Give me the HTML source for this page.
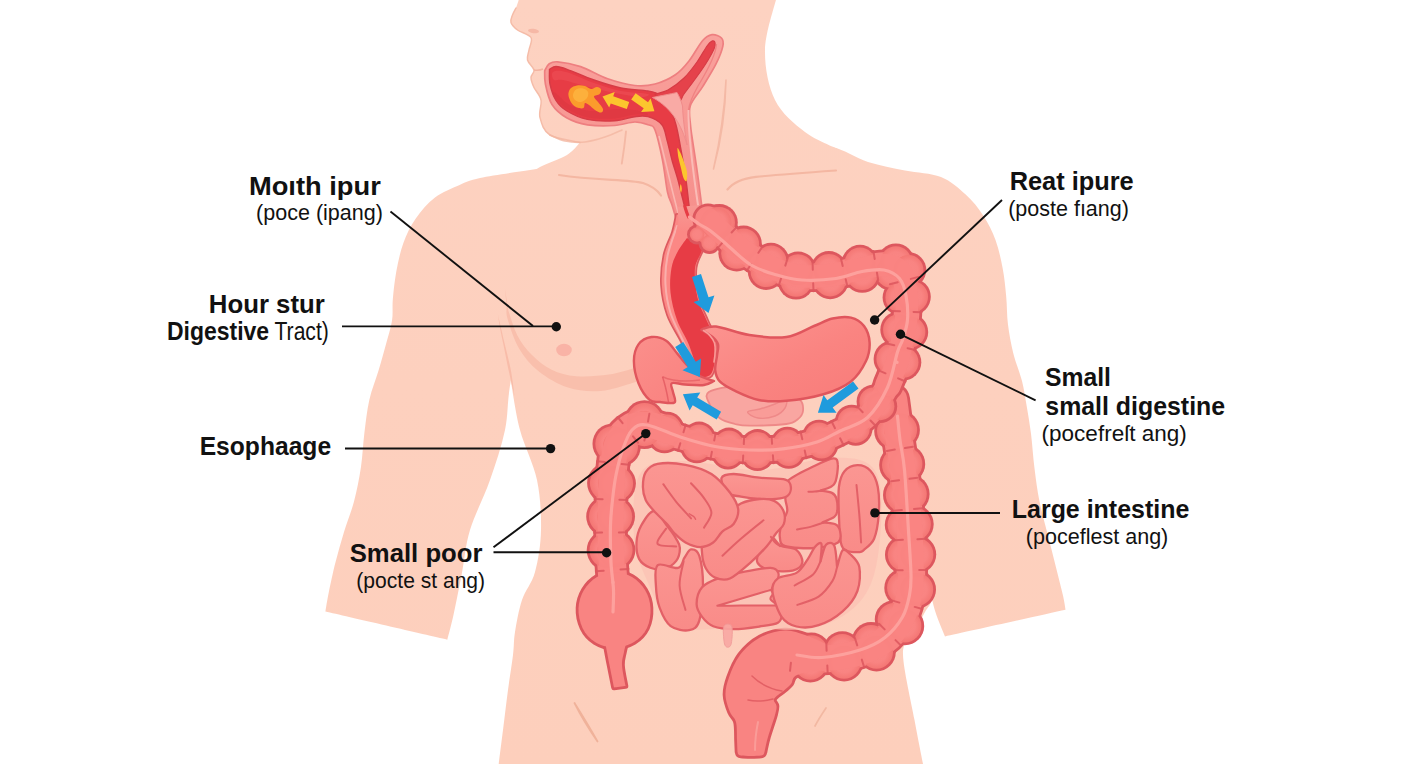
<!DOCTYPE html>
<html lang="en">
<head>
<meta charset="utf-8">
<title>Digestive tract diagram</title>
<style>
html,body{margin:0;padding:0;background:#fff;}
body{width:1408px;height:768px;overflow:hidden;position:relative;font-family:"Liberation Sans",sans-serif;}
svg{position:absolute;left:0;top:0;display:block;}
text{font-family:"Liberation Sans",sans-serif;fill:#111;}
.b{font-weight:700;}
</style>
</head>
<body>
<svg width="1408" height="768" viewBox="0 0 1408 768">
<defs>
<linearGradient id="skin" x1="0" y1="0" x2="0" y2="768" gradientUnits="userSpaceOnUse">
<stop offset="0" stop-color="#fdd2c1"/><stop offset="0.5" stop-color="#fdd0be"/><stop offset="1" stop-color="#fdcfbc"/>
</linearGradient>
</defs>
<rect width="1408" height="768" fill="#ffffff"/>
<path d="M560,166C555,166.7 543.3,168 530,170C516.7,172 491.7,175.5 480,178C468.3,180.5 467.1,181.7 459.6,185C452.1,188.3 442.3,192 435,197.6C427.7,203.2 420.9,211.1 415.6,218.7C410.3,226.3 406.5,234.5 403.3,243.3C400.1,252.1 398.1,262.1 396.3,271.5C394.6,280.9 393.5,291.4 392.8,299.6C392.1,307.8 393.2,313.1 392,320.7C390.8,328.3 387.9,337.1 385.7,345.3C383.5,353.5 381.4,360.9 378.7,370C376,379.1 371.7,389.4 369.3,400C366.9,410.6 365.7,422.5 364.3,433.8C362.9,445.1 362.6,456.3 360.9,467.6C359.2,478.9 356.8,490.8 354,501.5C351.2,512.2 347.1,521.8 344,531.9C340.9,542 338.1,552.1 335.5,562.3C332.9,572.4 330.4,584.6 328.7,592.8C327,601 325.9,608.5 325.4,611.6C345.7,616.3 427,635 447.3,639.7C448.4,635.3 451.4,624.7 453.8,613.5C456.2,602.3 459.3,586.6 462,572.7C464.7,558.8 465.3,545.5 470,530C474.7,514.5 484.2,496.7 490,480C495.8,463.3 501.5,446.7 505,430C508.5,413.3 506.8,401.7 511,380C515.2,358.3 521.8,326.7 530,300C538.2,273.3 555,233.3 560,220C560,211 560,175 560,166Z" fill="url(#skin)"/>
<path d="M800,150C805.3,149.5 820.7,145 832,147C843.3,149 855.8,158.1 868,162C880.2,165.9 892.8,168 905,170.5C917.2,173 930.9,173 941,177C951.1,181 958.7,188.2 965.7,194.6C972.8,201 978.3,208.1 983.3,215.7C988.3,223.3 992.4,231.5 995.6,240.3C998.8,249.1 1000.9,259.1 1002.7,268.5C1004.5,277.9 1005.3,287.2 1006.2,296.6C1007.1,306 1006.8,315.4 1008,324.8C1009.2,334.2 1010.9,343.5 1013.2,352.9C1015.5,362.3 1019.8,372.3 1022,381C1024.2,389.7 1025,396.2 1026.5,405C1028,413.8 1029.7,423.4 1031,433.8C1032.3,444.2 1033,456.3 1034.4,467.6C1035.8,478.9 1037.2,490.2 1039.5,501.5C1041.8,512.8 1045.1,524 1047.9,535.3C1050.7,546.5 1053.9,558.9 1056.4,569C1058.9,579.1 1061.6,589.2 1063.1,596C1064.6,602.8 1065.1,607.4 1065.5,609.7C1045.4,614.2 965.1,632 945,636.4C943.1,631.2 936.8,618.1 933.5,605.4C930.2,592.7 928.1,577.6 925,560C921.9,542.4 918.3,523.3 915,500C911.7,476.7 909.2,453.3 905,420C900.8,386.7 897.5,333.3 890,300C882.5,266.7 865,233.3 860,220C850,208.3 810,161.7 800,150Z" fill="url(#skin)"/>
<path d="M520,-4C519.3,-2 517.2,4.8 516,8C514.8,11.2 513.3,12.6 512.5,15C511.7,17.4 510.2,20 511,22.5C511.8,25 514.2,27.5 517.5,30C520.8,32.5 529.1,34.2 531,37.5C532.9,40.8 529.6,46.2 529,50C528.4,53.8 526.7,56.7 527.5,60C528.3,63.3 533.4,67.1 534,70C534.6,72.9 531,74.6 531,77.5C531,80.4 532.3,83.8 534,87.5C535.7,91.2 540,95 541,100C542,105 538.5,111.7 540,117.5C541.5,123.3 543.3,130.8 550,135C556.7,139.2 575,141.2 580,142.5C577.8,144.6 573.7,150.9 567,155C560.3,159.1 547.8,162.8 540,167C532.2,171.2 523.3,177.8 520,180C519.2,200 516.5,266.3 515,300C513.5,333.7 511.7,368.3 511,382C512.5,390 515.7,413.7 520,430C524.3,446.3 533.5,463.3 537,480C540.5,496.7 541.3,514.7 541,530C540.7,545.3 538.2,560.3 535,572C531.8,583.7 525.3,590 522,600C518.7,610 516.5,622.8 515,632C513.5,641.2 514.2,645.3 513,655C511.8,664.7 509.7,677.5 508,690C506.3,702.5 504.6,717.7 503,730C501.4,742.3 499.4,758.3 498.7,764C569.4,764 852.3,764 923,764C921.6,756.7 917.8,738.2 914.5,720C911.2,701.8 903.4,669 903,655C902.6,641 908.3,643.2 912,636C915.7,628.8 921.7,618.3 925,612C928.3,605.7 930.5,606.7 932,598C933.5,589.3 934.3,584.7 934,560C933.7,535.3 933.2,488.3 930,450C926.8,411.7 923.3,371.7 915,330C906.7,288.3 885.8,221.7 880,200C873.3,191.7 846.7,158.3 840,150C834.2,147 815.8,140.3 805,132C794.2,123.7 781.7,113.7 775,100C768.3,86.3 764.7,67.3 765,50C765.3,32.7 775,5 777,-4C734.2,-4 562.8,-4 520,-4Z" fill="url(#skin)"/>
<path d="M516,8C515.4,9.2 513.3,12.6 512.5,15C511.7,17.4 510.2,20 511,22.5C511.8,25 514.2,27.5 517.5,30C520.8,32.5 529.1,34.2 531,37.5C532.9,40.8 529.6,46.2 529,50C528.4,53.8 526.7,56.7 527.5,60C528.3,63.3 533.4,67.1 534,70C534.6,72.9 531,74.6 531,77.5C531,80.4 532.3,83.8 534,87.5C535.7,91.2 540,95 541,100C542,105 538.5,111.7 540,117.5C541.5,123.3 543.3,130.8 550,135C556.7,139.2 575,141.2 580,142.5" fill="none" stroke="#f5bca8" stroke-width="1.5" stroke-linejoin="round" stroke-linecap="round"/>
<path d="M550,135C552.5,136 559.2,139.8 565,141C570.8,142.2 578.3,142.7 585,142C591.7,141.3 598.8,139 605,137C611.2,135 619.2,131.2 622,130" fill="none" stroke="#f3b6a1" stroke-width="1.6" stroke-linecap="round" opacity=".8"/>
<ellipse cx="533.5" cy="31" rx="5.5" ry="2.2" fill="#f6b8a6" transform="rotate(8 533.5 31)"/>
<path d="M534,70 C538,70.5 541,70 543,69" stroke="#f3b3a0" stroke-width="1.5" fill="none"/>
<path d="M626,131.5 C625,142 623.5,153 621.8,163.6" stroke="#f4b9a5" stroke-width="1.9" fill="none" stroke-linecap="round"/>
<path d="M726,80 C724.5,110 719,145 713.5,169 C720,145 725.5,112 726,80Z" stroke="#f4b9a5" stroke-width="1.6" fill="#f4b9a5" stroke-linejoin="round"/>
<path d="M559,175 C595,180.5 628,179.5 643,183 C652,186 657.5,190 661,195.5" stroke="#f4b7a2" stroke-width="2.2" fill="none" stroke-linecap="round"/>
<path d="M727.5,189.5 C733,182.5 742,178.5 756,176.8 C780,174.5 808,172.5 836,170.5" stroke="#f4b7a2" stroke-width="2.2" fill="none" stroke-linecap="round"/>
<path d="M505,289C505.2,291.7 506.1,300 506.5,305C506.9,310 505.5,311.8 507.6,319C509.7,326.2 513.8,339.7 519,348.4C524.2,357.1 530.4,364.8 538.6,371.3C546.8,377.8 557.6,384.3 568,387.6C578.4,390.9 589.4,391.9 600.7,391C612,390.1 630.1,383.5 636,382L636,367.5C631.5,368.7 618.9,373.2 608.9,374.6C598.9,376.1 585.7,377 576.2,376.2C566.7,375.4 559.1,373.2 551.7,369.7C544.3,366.2 537.7,360.7 532,355C526.3,349.3 521.3,342.8 517.4,335.4C513.5,328 509.9,314.9 508.4,310.8Z" fill="#f9bfac"/>
<path d="M497.8,314C498.4,316.7 500.3,324.8 501.5,330C502.7,335.2 503.4,338.2 505,345C506.6,351.8 509.4,362.5 511,371C512.6,379.5 513.9,391.8 514.5,396C513.6,392 510.8,380.5 509,372C507.2,363.5 505,352.3 503.5,345C502,337.7 500.9,333.2 500,328C499.1,322.8 498.2,316.3 497.8,314Z" fill="#f8bca9"/>
<ellipse cx="564" cy="350" rx="7.8" ry="6.2" fill="#f9b3a6"/>
<path d="M574.5,703 C582,715 590,728 597.5,741.5 C589,729 581,716 574.5,703Z" stroke="#f0b29a" stroke-width="1.8" fill="#f0b29a" stroke-linejoin="round"/>
<path d="M826,708 C822,714 818,720 815,726" stroke="#f2b8a2" stroke-width="1.7" fill="none" stroke-linecap="round"/>
<defs><radialGradient id="hbg" cx="0.5" cy="0.5" r="0.5"><stop offset="0" stop-color="#fa8684"/><stop offset="0.62" stop-color="#f98482"/><stop offset="1" stop-color="#f47774"/></radialGradient></defs>
<defs><linearGradient id="mwg" x1="0" y1="0" x2="0" y2="1"><stop offset="0" stop-color="#f9a19c"/><stop offset="1" stop-color="#f68f8b"/></linearGradient></defs>
<path d="M544.7,70.6C545.4,69.5 546.9,65.5 549,64C551.1,62.5 552.3,61.4 557.6,61.8C562.9,62.2 572.2,63.8 580.6,66.6C589,69.4 598.7,75.6 607.7,78.8C616.7,82 626.9,84.6 634.8,85.5C642.7,86.4 648.2,85.8 655,84C661.8,82.2 669.7,78.5 675.4,74.7C681.1,70.9 684.5,66.7 689,61C693.5,55.4 698.7,45.2 702.5,40.8C706.3,36.4 708.8,35.2 712,34.7C715.2,34.2 719.7,36.1 721.5,38C723.3,39.9 723.7,42 722.8,46.3C721.9,50.6 719.4,57.1 716,63.9C712.6,70.7 706.8,79.9 702.5,86.9C698.2,93.9 692.3,99.5 690.3,105.8C688.3,112.1 690.1,119.3 690.5,125C690.9,130.7 691.4,132.5 692.5,140C693.6,147.5 695.6,160 697,170C698.4,180 700,192.3 701,200C702,207.7 702.7,213.3 703,216C698.7,217 681.3,221 677,222C676.2,219.2 673.6,210 672,205C670.4,200 669.1,199.5 667.5,192C665.9,184.5 664.6,170.3 662.5,160C660.4,149.7 657.4,135.9 655,130C652.6,124.1 651.4,126.1 648,124.8C644.6,123.5 640.4,121.9 634.8,122C629.2,122.1 622.4,125 614.5,125.5C606.6,126 595.3,126 587.4,124.8C579.5,123.5 572.9,121.4 567,118C561.1,114.6 555.6,110.2 552,104.5C548.4,98.8 546.6,89.7 545.4,84C544.2,78.3 544.8,72.8 544.7,70.6Z" fill="url(#mwg)" stroke="#ee7f80" stroke-width="1.7" stroke-linejoin="round"/>
<path d="M549.5,69.3C550.6,68.8 553.1,66.5 556,66.5C558.9,66.5 560.7,67 567,69.3C573.3,71.5 585,76.9 594,80C603,83.1 612,86.2 621,88C630,89.8 641.5,89.8 648,91C654.5,92.2 656.5,92.5 660,95C663.5,97.5 666.3,101 669,106C671.7,111 674,117.7 676,125C678,132.3 679.3,140.8 681,150C682.7,159.2 684.7,170.8 686,180C687.3,189.2 688.2,199.2 689,205C689.8,210.8 690.2,213.3 690.5,215C689.9,215 688.2,217.5 687,215C685.8,212.5 684.5,205.8 683,200C681.5,194.2 679.8,186.7 678,180C676.2,173.3 673.8,166.7 672,160C670.2,153.3 668.7,145.9 667,140C665.3,134.1 665.1,128.7 661.9,124.8C658.7,120.9 652.5,118 648,116.7C643.5,115.4 640.4,116 634.8,116.7C629.2,117.4 622.4,120.2 614.5,120.7C606.6,121.2 595.3,121 587.4,119.4C579.5,117.8 572.2,114.2 567,111C561.8,107.8 558.8,104.9 556,100.4C553.2,95.9 551.1,89.2 550,84C548.9,78.8 549.6,71.8 549.5,69.3Z" fill="#e73c45" stroke="#d63b45" stroke-width="1.4" stroke-linejoin="round"/>
<path d="M553,72C555,70.7 559.2,70.2 566,72C572.8,73.8 584.8,79.8 594,83C603.2,86.2 612,89.2 621,91C630,92.8 644.8,93 648,94C651.2,95 646.3,97.3 640,97C633.7,96.7 619.2,93.8 610,92C600.8,90.2 592.8,88 585,86C577.2,84 568.2,81 563,80C557.8,79 555.7,81.3 554,80C552.3,78.7 551,73.3 553,72Z" fill="#ef5057" opacity=".55"/>
<path d="M553,92C552.8,92.8 555.5,98.1 558,101C560.5,103.9 563,106.8 568,109.5C573,112.2 580.3,116 588,117.5C595.7,119 606.3,119 614,118.5C621.7,118 628.3,115.2 634,114.5C639.7,113.8 647,115.1 648,114.5C649,113.9 644.7,111.9 640,111C635.3,110.1 628.3,109 620,109C611.7,109 598.3,111.7 590,111C581.7,110.3 575.2,107.5 570,105C564.8,102.5 561.8,98.2 559,96C556.2,93.8 553.2,91.2 553,92Z" fill="#d93540" opacity=".5"/>
<path d="M655,95C654.7,93.3 663.2,92.8 668,90C672.8,87.2 679.2,82.7 684,78C688.8,73.3 693.2,67.3 697,62C700.8,56.7 704.5,49.5 707,46C709.5,42.5 710.7,41.6 712,41C713.3,40.4 714.7,41.2 715,42.5C715.3,43.8 715.7,45.2 714,49C712.3,52.8 708.5,59.5 705,65C701.5,70.5 696.5,77.2 693,82C689.5,86.8 686.3,90.7 684,94C681.7,97.3 681.3,101 679,102C676.7,103 674,101.2 670,100C666,98.8 655.3,96.7 655,95Z" fill="#e5424b" stroke="#d63b45" stroke-width="1.1"/>
<path d="M716.5,44 C716,52 709,68 698,86 C693,95 689.5,102 688.5,110" fill="none" stroke="#ee7f80" stroke-width="1.3" opacity=".9"/>
<path d="M652.5,97.5 C662,95.5 670,94 677,92.5 C679,96 681,100 682.5,106 C683,118 684.5,130 687,145 C682,126 672,108 652.5,97.5Z" fill="#f9aaa5" stroke="#f08c8b" stroke-width="1"/>
<path d="M688.5,110 C688,135 693,172 699,212" fill="none" stroke="#fbc0ba" stroke-width="2" opacity=".9"/>
<path d="M659,136 C665,158 671.5,190 679.5,218" fill="none" stroke="#fbc0ba" stroke-width="1.6" opacity=".8"/>
<path d="M568.4,95C568.2,92.6 569.1,90.1 570.5,88.5C571.9,86.9 574.6,85.9 577,85.5C579.4,85.1 582.7,85.4 585,86C587.3,86.6 589,88.8 591,89C593,89.2 595.3,86.9 597,87C598.7,87.1 600.6,88.3 601,89.5C601.4,90.7 600.8,92.8 599.6,94C598.4,95.2 594.3,95.2 594,96.5C593.7,97.8 596.5,99.9 598,102C599.5,104.1 602.5,107.2 603,109C603.5,110.8 602.3,112.4 601,112.6C599.7,112.8 597,111.3 595,110C593,108.7 590.7,106.2 589,105C587.3,103.8 585.9,102.5 585,103C584.1,103.5 584.8,107.2 583.5,108C582.2,108.8 579,108.3 577,107.5C575,106.7 572.9,105.1 571.5,103C570.1,100.9 568.6,97.4 568.4,95Z" fill="#fb9c2c"/>
<path d="M573,95C573.2,93.2 574.3,90.6 576,89.5C577.7,88.4 581,88.1 583,88.5C585,88.9 587.3,90.4 588,92C588.7,93.6 588.2,96.3 587,98C585.8,99.7 583,101.7 581,102C579,102.3 576.3,101.2 575,100C573.7,98.8 572.8,96.8 573,95Z" fill="#fdb23e" opacity=".9"/>
<path d="M629.2,102L613.2,96.3L614.7,92L602.5,96.5L609.2,107.6L610.7,103.4L626.8,109Z" fill="#fcc62e"/>
<path d="M631.2,99.5L643.7,108.3L641.1,112L654.4,111.3L650.6,98.5L648,102.2L635.6,93.3Z" fill="#fcc62e"/>
<path d="M677.5,148C677.8,147.2 679.4,150.7 680.5,153C681.6,155.3 682.9,158.8 684,162C685.1,165.2 686.6,168.8 687,172C687.4,175.2 687.1,180 686.5,181C685.9,182 684.4,180.2 683.5,178C682.6,175.8 681.8,171.3 681,168C680.2,164.7 679.1,161.3 678.5,158C677.9,154.7 677.2,148.8 677.5,148Z" fill="#fcc62e"/>
<path d="M680.5,184 C682,186 682.5,190 681,193 C679.5,190 679.5,187 680.5,184Z" fill="#fdb53a"/>
<path d="M676,214C675.3,217 674.1,225.2 672,232C669.9,238.8 665.3,246.2 663.5,255C661.7,263.8 660.4,275 661,285C661.6,295 663.7,305.5 667,315C670.3,324.5 676.8,333.5 681,342C685.2,350.5 688.8,359.8 692,366C695.2,372.2 698.7,376.8 700,379C702,378.5 709.2,379.7 712,376C714.8,372.3 716.3,363.3 717,357C717.7,350.7 717.5,344.2 716,338C714.5,331.8 710.8,326.8 708,320C705.2,313.2 700.9,306.2 699,297.5C697.1,288.8 695.5,276.6 696.5,268C697.5,259.4 703.1,252.7 705,246C706.9,239.3 708.3,233.7 708,228C707.7,222.3 703.8,214.7 703,212C698.5,212.3 680.5,213.7 676,214Z" fill="#fb8885" stroke="#dc5a60" stroke-width="1.7" stroke-linejoin="round"/>
<path d="M687,238C685.4,240.3 680.1,247 677.5,252C674.9,257 672.7,261.2 671.5,268C670.3,274.8 669.6,283.8 670.5,292.5C671.4,301.2 673.9,311.2 677,320C680.1,328.8 685.2,335.3 689,345C692.8,354.7 697.8,372.5 699.5,378C701.4,377.3 708.3,377.7 711,374C713.7,370.3 714.9,362 715.5,356C716.1,350 716,344 714.5,338C713,332 709.3,326.8 706.5,320C703.7,313.2 699.4,306.2 697.5,297.5C695.6,288.8 694.2,276.3 695,268C695.8,259.7 703.3,252.5 702,247.5C700.7,242.5 689.5,239.6 687,238Z" fill="#e73c45"/>
<path d="M677,226C675.4,231 669.4,246.2 667.5,256C665.6,265.8 665,275.5 665.5,285C666,294.5 667.5,303.5 670.5,313C673.5,322.5 679.3,332.8 683.5,342C687.7,351.2 693.5,363.7 695.5,368" fill="none" stroke="#f9b4b0" stroke-width="2" stroke-linecap="round" opacity=".9"/>
<defs><linearGradient id="seam" x1="0" y1="206" x2="0" y2="232" gradientUnits="userSpaceOnUse"><stop offset="0" stop-color="#f79893"/><stop offset="1" stop-color="#fb8885"/></linearGradient></defs>
<path d="M677.5,207 L700.5,205 L704,222 L700,236 L676,232 L678.5,221 Z" fill="url(#seam)"/>
<path d="M686,205 C687.5,210 689,214 690.5,218 L687.5,218.5 C685.5,214 684,210 683,205.5Z" fill="#e73c45"/>
<g fill="#dd575e" stroke="#dd575e" stroke-width="5.6" stroke-linejoin="round">
<path d="M893,400C893.7,405 895.3,418.3 897,430C898.7,441.7 901.2,456.7 903,470C904.8,483.3 906.8,496.7 908,510C909.2,523.3 910.2,536.7 910.5,550C910.8,563.3 911.6,578.3 910,590C908.4,601.7 905.5,611.5 901,620C896.5,628.5 890.2,635.5 883,641C875.8,646.5 867.2,650.2 858,653C848.8,655.8 837.7,657.4 828,658C818.3,658.6 807,657 800,656.5C793,656 788.3,655.2 786,655" fill="none" stroke-width="34.2" stroke-linecap="round"/>
<circle cx="893.5" cy="431" r="19.3" stroke="none"/>
<circle cx="898.5" cy="465" r="19.3" stroke="none"/>
<circle cx="902.3" cy="495" r="19.3" stroke="none"/>
<circle cx="904.1" cy="524.9" r="19.3" stroke="none"/>
<circle cx="904.3" cy="554.7" r="19.3" stroke="none"/>
<circle cx="903.6" cy="587.9" r="19.3" stroke="none"/>
<circle cx="894.1" cy="619.5" r="19.3" stroke="none"/>
<circle cx="871" cy="641.4" r="19.3" stroke="none"/>
<circle cx="842.3" cy="650.5" r="19.3" stroke="none"/>
<circle cx="811.4" cy="651.8" r="19.3" stroke="none"/>
<circle cx="900.6" cy="429.9" r="19.3" stroke="none"/>
<circle cx="905.9" cy="463.9" r="19.3" stroke="none"/>
<circle cx="910.3" cy="494" r="19.3" stroke="none"/>
<circle cx="914.4" cy="524.1" r="19.3" stroke="none"/>
<circle cx="916.9" cy="554.4" r="19.3" stroke="none"/>
<circle cx="916.7" cy="589.4" r="19.3" stroke="none"/>
<circle cx="904.9" cy="625.9" r="19.3" stroke="none"/>
<circle cx="876.5" cy="652.2" r="19.3" stroke="none"/>
<circle cx="844.1" cy="662.2" r="19.3" stroke="none"/>
<circle cx="810.4" cy="663.2" r="19.3" stroke="none"/>
<path d="M826,644C822.5,642.5 811.8,637.2 805,635C798.2,632.8 792.5,630.1 785,630.5C777.5,630.9 767.5,633.4 760,637.5C752.5,641.6 745.2,648.3 740,655C734.8,661.7 731.4,670.8 729,677.5C726.6,684.2 725.3,689.2 725.5,695C725.7,700.8 728.2,707.5 730,712C731.8,716.5 734.8,717.3 736,722C737.2,726.7 736.8,735 737,740C737.2,745 737.4,750 737.5,752C738.1,752.6 737.1,754.9 741,755.5C744.9,756.1 757.1,756.1 761,755.5C764.9,754.9 763.9,752.6 764.5,752C765.1,749.5 766.2,743.2 768,737C769.8,730.8 773.6,720.2 775,715C776.4,709.8 776.7,708.7 776.5,706C776.3,703.3 772.8,701.6 774,699C775.2,696.4 781.2,693 784,690.5C786.8,688 788.8,686.6 791,684C793.2,681.4 791.2,677.7 797,675C802.8,672.3 821.2,669.2 826,668C826,664 826,648 826,644Z"/>
</g>
<g fill="#f98482" stroke="none">
<path d="M893,400C893.7,405 895.3,418.3 897,430C898.7,441.7 901.2,456.7 903,470C904.8,483.3 906.8,496.7 908,510C909.2,523.3 910.2,536.7 910.5,550C910.8,563.3 911.6,578.3 910,590C908.4,601.7 905.5,611.5 901,620C896.5,628.5 890.2,635.5 883,641C875.8,646.5 867.2,650.2 858,653C848.8,655.8 837.7,657.4 828,658C818.3,658.6 807,657 800,656.5C793,656 788.3,655.2 786,655" fill="none" stroke="#f98482" stroke-width="28.6" stroke-linecap="round"/>
<circle cx="893.5" cy="431" r="16.5" fill="url(#hbg)"/>
<circle cx="898.5" cy="465" r="16.5" fill="url(#hbg)"/>
<circle cx="902.3" cy="495" r="16.5" fill="url(#hbg)"/>
<circle cx="904.1" cy="524.9" r="16.5" fill="url(#hbg)"/>
<circle cx="904.3" cy="554.7" r="16.5" fill="url(#hbg)"/>
<circle cx="903.6" cy="587.9" r="16.5" fill="url(#hbg)"/>
<circle cx="894.1" cy="619.5" r="16.5" fill="url(#hbg)"/>
<circle cx="871" cy="641.4" r="16.5" fill="url(#hbg)"/>
<circle cx="842.3" cy="650.5" r="16.5" fill="url(#hbg)"/>
<circle cx="811.4" cy="651.8" r="16.5" fill="url(#hbg)"/>
<circle cx="900.6" cy="429.9" r="16.5" fill="url(#hbg)"/>
<circle cx="905.9" cy="463.9" r="16.5" fill="url(#hbg)"/>
<circle cx="910.3" cy="494" r="16.5" fill="url(#hbg)"/>
<circle cx="914.4" cy="524.1" r="16.5" fill="url(#hbg)"/>
<circle cx="916.9" cy="554.4" r="16.5" fill="url(#hbg)"/>
<circle cx="916.7" cy="589.4" r="16.5" fill="url(#hbg)"/>
<circle cx="904.9" cy="625.9" r="16.5" fill="url(#hbg)"/>
<circle cx="876.5" cy="652.2" r="16.5" fill="url(#hbg)"/>
<circle cx="844.1" cy="662.2" r="16.5" fill="url(#hbg)"/>
<circle cx="810.4" cy="663.2" r="16.5" fill="url(#hbg)"/>
<path d="M893,400C893.7,405 895.3,418.3 897,430C898.7,441.7 901.2,456.7 903,470C904.8,483.3 906.8,496.7 908,510C909.2,523.3 910.2,536.7 910.5,550C910.8,563.3 911.6,578.3 910,590C908.4,601.7 905.5,611.5 901,620C896.5,628.5 890.2,635.5 883,641C875.8,646.5 867.2,650.2 858,653C848.8,655.8 837.7,657.4 828,658C818.3,658.6 807,657 800,656.5C793,656 788.3,655.2 786,655" fill="none" stroke="#f98482" stroke-width="25.6" stroke-linecap="round" opacity=".9"/>
<path d="M826,644C822.5,642.5 811.8,637.2 805,635C798.2,632.8 792.5,630.1 785,630.5C777.5,630.9 767.5,633.4 760,637.5C752.5,641.6 745.2,648.3 740,655C734.8,661.7 731.4,670.8 729,677.5C726.6,684.2 725.3,689.2 725.5,695C725.7,700.8 728.2,707.5 730,712C731.8,716.5 734.8,717.3 736,722C737.2,726.7 736.8,735 737,740C737.2,745 737.4,750 737.5,752C738.1,752.6 737.1,754.9 741,755.5C744.9,756.1 757.1,756.1 761,755.5C764.9,754.9 763.9,752.6 764.5,752C765.1,749.5 766.2,743.2 768,737C769.8,730.8 773.6,720.2 775,715C776.4,709.8 776.7,708.7 776.5,706C776.3,703.3 772.8,701.6 774,699C775.2,696.4 781.2,693 784,690.5C786.8,688 788.8,686.6 791,684C793.2,681.4 791.2,677.7 797,675C802.8,672.3 821.2,669.2 826,668C826,664 826,648 826,644Z"/>
</g>
<g stroke="#dd575e" stroke-width="2" stroke-linecap="round" opacity=".85">
<path d="M886.9,450.9 L894.8,449.6"/>
<path d="M891.2,481.3 L899.1,480.2"/>
<path d="M893.9,510.8 L901.9,510.1"/>
<path d="M894.9,540.2 L902.9,539.8"/>
<path d="M894.7,570.2 L902.7,570.2"/>
<path d="M891.7,600.4 L899.4,602.6"/>
<path d="M879,623.8 L884.7,629.4"/>
<path d="M854.8,637.8 L857.2,645.4"/>
<path d="M826.3,642.8 L826.6,650.8"/>
<path d="M912.9,446.8 L905,448.1"/>
<path d="M917.4,477.7 L909.5,478.8"/>
<path d="M922,508.2 L914,508.9"/>
<path d="M925.4,538.8 L917.4,539.2"/>
<path d="M927.2,570 L919.2,570.1"/>
<path d="M922.4,609 L914.7,606.9"/>
<path d="M901.2,645.7 L895.5,640.1"/>
<path d="M864.2,667.2 L861.8,659.6"/>
<path d="M827.7,673.3 L827.3,665.4"/>
<path d="M790,670.8 L790.9,662.8"/>
</g>
<path d="M897.5,416C897.9,420 898.8,431 900,440C901.2,449 903.1,454.8 904.5,470C905.9,485.2 907.4,513.5 908.5,531C909.6,548.5 910.8,564.3 911,575C911.2,585.7 910.9,588 909.5,595C908.1,602 906.6,609.9 902.5,617C898.4,624.1 892.1,632 885,637.5C877.9,643 870.5,646.7 860,650C849.5,653.3 832.5,656.7 822,657.5C811.5,658.3 801.2,655.4 797,655" fill="none" stroke="#fda29e" stroke-width="3.2" stroke-linecap="round" opacity=".95"/>
<path d="M752,676 C760,684 770,689 782,691" fill="none" stroke="#dd575e" stroke-width="1.5" stroke-linecap="round" opacity=".8"/>
<path d="M748,700 C756,702 765,701 773,699" fill="none" stroke="#dd575e" stroke-width="1.5" stroke-linecap="round" opacity=".8"/>
<path d="M758,722 C756,732 755,742 755,750" fill="none" stroke="#fbb0ab" stroke-width="2" stroke-linecap="round" opacity=".55"/>
<defs><linearGradient id="sig" x1="0" y1="0" x2="0" y2="1"><stop offset="0" stop-color="#fb9692"/><stop offset="1" stop-color="#f98b88"/></linearGradient></defs>
<path d="M641.1,472.2C649.7,460.2 665.7,461.4 685.5,461.1C705.2,460.8 734.8,471 759.4,470.3C784.1,469.7 814,457.1 833.4,457.4C852.8,457.7 868.2,458 875.9,472.2C883.6,486.4 881.8,521.5 879.6,542.5C877.5,563.4 873.8,583.8 863,597.9C852.2,612.1 835.3,622.6 814.9,627.5C794.6,632.4 764.1,627.8 740.9,627.5C717.8,627.2 691.9,633.7 676.2,625.7C660.5,617.7 653.7,594.8 646.6,579.4C639.6,564 634.6,551.1 633.7,533.2C632.8,515.3 632.5,484.2 641.1,472.2Z" fill="#fbc1b4" opacity=".75"/>
<path d="M838.9,487C839.9,479.7 841.4,474.9 844.5,471.3C847.6,467.6 853.1,465.3 857.4,465.2C861.8,465.1 867,467.1 870.4,470.7C873.8,474.3 876.4,479.6 877.8,487C879.2,494.3 879.3,506.1 878.7,514.7C878.1,523.3 876.5,532.9 874.1,538.8C871.6,544.6 866.4,547.6 863.9,549.9C861.4,552.1 862.2,551.9 859.3,552.1C856.4,552.2 849.8,552.4 846.7,550.8C843.6,549.2 842.1,548.5 840.8,542.5C839.5,536.4 839.3,524 838.9,514.7C838.6,505.5 838,494.2 838.9,487Z" fill="url(#sig)" stroke="#e36067" stroke-width="2.3" stroke-linejoin="round"/>
<path d="M856.5,485.1C857,490.1 858.5,505.2 859.3,514.7C860.1,524.3 860.8,537.8 861.1,542.5" fill="none" stroke="#e36067" stroke-width="2" stroke-linecap="round"/>
<path d="M820.5,490.5C822.4,490.9 829.3,491.6 831.9,492.9C834.6,494.2 835.5,495.4 836.4,498.4C837.3,501.5 837.6,507.9 837.3,511C836.9,514.1 836.8,515 834.3,516.9C831.8,518.8 824.3,521.6 822.3,522.5C824.5,522.8 832.3,522.9 835.3,524.3C838.2,525.8 839.6,528.3 840.1,531.4C840.5,534.4 842.2,539.7 838,542.5C833.8,545.2 823.7,547.4 814.9,548C806.1,548.6 791.2,548 785.3,546.2C779.5,544.3 780.4,540.6 779.8,536.9C779.2,533.2 780.4,528.3 781.6,524C782.9,519.6 786.6,515.3 787.2,511C787.8,506.7 785.3,503 785.3,498.1C785.3,493.1 782.2,486.8 787.2,481.4C792.1,476 807.2,469.6 814.9,465.7C822.6,461.9 829.6,458.5 833.4,458.3C837.2,458.1 837.5,460.6 837.8,464.4C838.2,468.3 836.8,477.7 835.6,481.4C834.4,485.2 833.2,485.5 830.6,487C828.1,488.5 822.2,489.9 820.5,490.5Z" fill="url(#sig)" stroke="#e36067" stroke-width="2.3" stroke-linejoin="round"/>
<path d="M821.4,490.7C820.3,490.8 817.1,491.4 814.9,491.6C812.8,491.8 809.5,491.8 808.4,491.8" fill="none" stroke="#e36067" stroke-width="2" stroke-linecap="round"/>
<path d="M797,529.5C799.3,529 806.8,527.7 811.2,526.6C815.6,525.4 821.2,523.3 823.2,522.7" fill="none" stroke="#e36067" stroke-width="2" stroke-linecap="round"/>
<path d="M721.5,478.1C722.5,475 727.2,474.1 733.6,474C739.9,474 750.8,476.8 759.4,477.7C768.1,478.7 780.1,478 785.3,479.6C790.6,481.2 790.6,484.8 790.9,487.5C791.2,490.3 789.6,494.3 787.2,496.2C784.7,498.1 780.7,498.5 776.1,499C771.5,499.5 765.3,499.4 759.4,499C753.6,498.6 746.2,497.6 740.9,496.6C735.7,495.6 731.2,496 728,492.9C724.8,489.8 720.6,481.2 721.5,478.1Z" fill="url(#sig)" stroke="#e36067" stroke-width="2.3" stroke-linejoin="round"/>
<path d="M770.5,536.9C767,537.9 761.6,547.4 759.4,551.7C757.3,556 755.7,559.7 757.6,562.8C759.4,565.9 764.7,568.9 770.5,570.2C776.4,571.5 787.4,571.8 792.7,570.6C798,569.3 801.7,566.2 802.3,562.8C803,559.3 800,552.7 796.4,549.9C792.8,547 785,547.9 780.7,545.8C776.4,543.6 774.1,535.9 770.5,536.9Z" fill="url(#sig)" stroke="#e36067" stroke-width="2.3" stroke-linejoin="round"/>
<path d="M654,511C649.7,511 644,520.6 641.1,525.8C638.2,531.1 636.8,536.9 636.5,542.5C636.2,548 636.9,554.9 639.2,559.1C641.6,563.3 646.2,566.2 650.3,567.8C654.5,569.4 659.9,569.9 664.2,568.7C668.5,567.6 673.6,564.4 676.2,560.9C678.8,557.5 679.9,551.7 679.9,548C679.9,544.3 678.4,542.5 676.2,538.8C674.1,535.1 670.7,530.4 667,525.8C663.3,521.2 658.4,511 654,511Z" fill="url(#sig)" stroke="#e36067" stroke-width="2.3" stroke-linejoin="round"/>
<path d="M676.2,546.5C673.6,546.3 663.6,546.3 660.5,545.4C657.4,544.5 656.8,543.8 657.7,541C658.7,538.2 664.7,530.7 666.1,528.6" fill="none" stroke="#e36067" stroke-width="2" stroke-linecap="round"/>
<path d="M657.7,565.1C654,568.1 655.6,578.4 655.9,585.5C656.2,592.6 657.1,600.9 659.6,607.7C662.1,614.4 665.7,622.4 670.7,626.2C675.6,629.9 684.4,631.1 689.2,630.2C693.9,629.3 697,628.1 699.3,620.6C701.7,613.1 703,596.3 703,585.5C703,574.7 701.3,561.9 699.3,555.9C697.3,549.9 693.5,549.1 691,549.4C688.6,549.7 686.7,554.7 684.5,557.7C682.4,560.8 682.5,566.7 678.1,567.9C673.6,569.1 661.4,562.2 657.7,565.1Z" fill="url(#sig)" stroke="#e36067" stroke-width="2.3" stroke-linejoin="round"/>
<path d="M683.6,561.4C682.9,565.4 679.2,577.4 679.6,585.5C679.9,593.5 684.5,605.8 685.5,609.9" fill="none" stroke="#e36067" stroke-width="2" stroke-linecap="round"/>
<path d="M696.6,604C696.6,599 698.4,591.6 702.1,587.3C705.8,583 711.7,580.7 718.8,578.1C725.8,575.5 736,573.3 744.6,571.6C753.3,569.9 764.9,567.7 770.5,567.9C776.1,568.1 777.3,570.3 778.3,572.9C779.3,575.5 777.6,580.8 776.4,583.6C775.3,586.5 771.1,586.3 771.5,590.1C771.9,593.9 777.1,602.3 778.9,606.2C780.6,610.1 782.2,610.8 782,613.6C781.8,616.4 781.7,620.7 777.9,622.8C774.2,625 766.8,625.5 759.4,626.5C752,627.6 741.3,629.2 733.6,629.1C725.8,629.1 718.4,628.2 713.2,626.2C708,624.1 704.9,620.6 702.1,616.9C699.3,613.2 696.6,608.9 696.6,604Z" fill="url(#sig)" stroke="#e36067" stroke-width="2.3" stroke-linejoin="round"/>
<path d="M717.3,605.8C721.2,604.6 733.9,600.9 740.9,598.8C748,596.7 754.4,594.7 759.4,593.2C764.4,591.8 769,590.5 770.9,589.9C771.2,590.6 772.8,592.2 772.8,593.8C772.7,595.4 769.6,597.4 770.5,599.3C771.5,601.3 777,604.6 778.3,605.6C775.2,605.6 765.7,605.6 759.4,605.6C753.2,605.6 748,605.6 740.9,605.6C733.9,605.7 721.2,605.8 717.3,605.8Z" fill="#fbc3b6" stroke="#e36067" stroke-width="2" stroke-linejoin="round"/>
<path d="M723.9,626.2C722.7,628.9 723.7,639.3 724.3,642.8C724.9,646.3 726.5,647.2 727.6,647.2C728.8,647.3 730.7,646.7 731.3,643.2C732,639.7 732.9,629 731.7,626.2C730.5,623.3 725.2,623.4 723.9,626.2Z" fill="#f9a8a3" stroke="#f29a98" stroke-width="1" opacity=".9"/>
<path d="M820.5,561.4C821.4,558.7 823.7,547.4 826,544.8C828.3,542.2 832.5,542 834.3,545.7C836.2,549.4 836.6,563.4 837.1,567C838,564.2 840.5,552.5 842.6,550.3C844.8,548.2 847.3,551.3 850,554C852.8,556.8 858.1,560.8 859.3,567C860.5,573.1 860.2,583.6 857.4,591C854.7,598.4 849.1,605.7 842.6,611.4C836.2,617.1 826.3,622.7 818.6,625.2C810.9,627.8 802.6,627.9 796.4,626.5C790.3,625.1 785.6,622.8 781.6,616.9C777.6,611 773,597.4 772.4,591C771.8,584.6 773.9,581.5 777.9,578.4C781.9,575.4 791.5,576 796.4,572.9C801.4,569.8 804.4,563.9 807.5,559.6C810.6,555.3 812.6,549.6 814.9,547C817.2,544.4 820.5,541.5 821.4,543.9C822.3,546.3 820.6,558.5 820.5,561.4Z" fill="url(#sig)" stroke="#e36067" stroke-width="2.3" stroke-linejoin="round"/>
<path d="M794.6,585.5C797.7,583.6 808.7,578.4 813.1,574.4C817.4,570.4 819.2,563.6 820.5,561.4" fill="none" stroke="#e36067" stroke-width="2" stroke-linecap="round"/>
<path d="M797.3,604.9C800.9,603.5 812.8,600.6 818.6,596.6C824.5,592.6 829.4,585.8 832.5,580.9C835.6,575.9 836.3,569.3 837.1,567" fill="none" stroke="#e36067" stroke-width="2" stroke-linecap="round"/>
<path d="M704,538.8C707.4,532.9 716.3,524.3 722.5,518.4C728.6,512.6 734.8,506.9 740.9,503.6C747.1,500.4 753.9,499.5 759.4,499C765,498.5 770.2,498.8 774.2,500.9C778.2,502.9 781.9,507.2 783.5,511C785.1,514.9 785.1,520.3 783.8,524C782.6,527.7 778.9,529.5 776.1,533.2C773.2,536.9 771.1,541.2 766.8,546.2C762.5,551.1 756.4,557.4 750.2,562.8C744,568.2 735.7,576 729.9,578.5C724,581 719.1,579.3 715.1,577.6C711.1,575.9 708,572.3 705.8,568.3C703.7,564.3 702.4,558.5 702.1,553.6C701.8,548.6 700.6,544.6 704,538.8Z" fill="url(#sig)" stroke="#e36067" stroke-width="2.3" stroke-linejoin="round"/>
<path d="M722.5,555.8C725.5,552.9 734.1,544.7 740.9,538.8C747.8,532.8 759.7,523.3 763.5,520.3" fill="none" stroke="#e36067" stroke-width="2" stroke-linecap="round"/>
<path d="M770.9,536.9C771.6,537.8 773.6,540.9 775.2,542.5C776.7,544 779.3,545.5 780.1,546.2" fill="none" stroke="#e36067" stroke-width="2" stroke-linecap="round"/>
<path d="M642.9,487C642.9,482.4 643.3,476 645.7,472.2C648.2,468.3 651.1,465.1 657.7,463.9C664.4,462.6 676.5,463.1 685.5,464.8C694.4,466.5 704,469.4 711.4,474C718.8,478.7 725.4,486.7 729.9,492.5C734.3,498.4 737.6,503.9 738.2,509.2C738.8,514.4 736.2,520.3 733.6,524C730.9,527.7 725.8,528.3 722.5,531.4C719.1,534.4 716.9,539.8 713.2,542.5C709.5,545.1 704.9,547.1 700.3,547.1C695.6,547.1 689.8,544.8 685.5,542.5C681.2,540.1 677.5,536.3 674.4,533.2C671.3,530.1 670.4,527.7 667,524C663.6,520.3 657.6,515 654,511C650.5,507 647.6,503.9 645.7,499.9C643.9,495.9 642.9,491.6 642.9,487Z" fill="url(#sig)" stroke="#e36067" stroke-width="2.3" stroke-linejoin="round"/>
<path d="M663.3,484.2C665.4,487.1 671.6,496.1 676.2,501.8C680.9,507.5 688.6,515.6 691,518.4" fill="none" stroke="#e36067" stroke-width="2" stroke-linecap="round"/>
<path d="M691,483.3C693.2,485.7 700.6,493.1 704,498.1C707.4,503 711.4,507.9 711.4,512.9C711.4,517.8 705.2,525.2 704,527.7" fill="none" stroke="#e36067" stroke-width="2" stroke-linecap="round"/>
<path d="M689.2,513.8C689.9,514.3 692.7,515.6 693.8,516.6C694.9,517.5 695.3,518.9 695.6,519.3" fill="none" stroke="#e36067" stroke-width="1.4" stroke-linecap="round"/>
<defs><linearGradient id="stg" x1="0" y1="0" x2="1" y2="1"><stop offset="0" stop-color="#fc9591"/><stop offset="0.55" stop-color="#fa8481"/><stop offset="1" stop-color="#f87b79"/></linearGradient><linearGradient id="dug" x1="0" y1="0" x2="1" y2="1"><stop offset="0" stop-color="#fb8f8b"/><stop offset="1" stop-color="#f97f7d"/></linearGradient></defs>
<path d="M708.8,392C703.8,395.2 708.2,400.6 710,405C711.8,409.4 715.6,415.1 719.8,418.3C724,421.5 730.1,422.8 735,424C739.9,425.2 740.8,425.7 749.4,425.7C758,425.7 778.3,425.1 786.4,424C794.5,422.9 795.2,421.2 798,419C800.8,416.8 802.7,414.2 803,411C803.3,407.8 803.8,403.2 800,400C796.2,396.8 790,394.3 780,392C770,389.7 751.9,386 740,386C728.1,386 713.8,388.8 708.8,392Z" fill="#f9a4a0" stroke="#ee8686" stroke-width="1.8" opacity=".95"/>
<path d="M747.6,412C747.9,410.5 755.4,410.3 760,409C764.6,407.7 770.7,405.7 775,404C779.3,402.3 784.3,398.3 786,399C787.7,399.7 786.8,405.2 785,408C783.2,410.8 779.5,414.3 775,416C770.5,417.7 762.6,418.7 758,418C753.4,417.3 747.3,413.5 747.6,412Z" fill="#f99c98" stroke="#ee8686" stroke-width="1.4" opacity=".9"/>
<path d="M714,381C712.3,381.7 708.8,384.4 704,385C699.2,385.6 690.4,384.8 685,384.5C679.6,384.2 673.8,381.9 671.8,383.2C669.8,384.4 672.5,388.8 673,392C673.5,395.2 676.7,400.8 674.5,402.5C672.3,404.2 664.1,402.4 660,402C655.9,401.6 653.2,403 649.6,399.9C646,396.8 641.1,389.7 638.5,383.2C635.9,376.7 633.9,367.5 633.9,361C633.9,354.5 635.6,348.4 638.5,344.4C641.4,340.4 646.8,337.6 651.4,337C656,336.4 661.9,337.9 666.2,340.7C670.5,343.5 673.9,349.6 677.3,353.6C680.7,357.6 682.9,361 686.6,364.7C690.3,368.4 694.9,373.1 699.5,375.8C704.1,378.5 711.6,380.1 714,381Z" fill="url(#dug)" stroke="#e0565d" stroke-width="2.4" stroke-linejoin="round"/>
<path d="M662.5,376.7 C665,384 667,393 668.5,402" fill="none" stroke="#e0565d" stroke-width="1.5" opacity=".75"/>
<path d="M662.5,376.7 C672,381 686,382 700,380" fill="none" stroke="#e0565d" stroke-width="1.5" opacity=".6"/>
<path d="M701.4,329.6C703.8,329.1 708,325.6 716,326.5C724,327.4 737.7,333.2 749.4,335C761.1,336.8 775.6,338.5 786.4,337C797.2,335.5 806.3,329.1 814,326C821.7,322.9 826.4,319.9 832.6,318.5C838.8,317.1 845.8,316.4 851,317.6C856.2,318.9 860.9,321.9 864,326C867.1,330.1 869.3,336.7 869.6,342.5C869.9,348.3 869.1,354.5 866,361C862.9,367.5 858.1,375.8 851,381.4C843.9,386.9 834.2,391.1 823.4,394.3C812.6,397.5 797.2,399.9 786.4,400.8C775.6,401.7 767.3,401.6 758.7,399.9C750.1,398.2 741.1,393.7 734.6,390.6C728.1,387.5 723,384.8 719.8,381.4C716.6,378 715.7,374.6 715.2,370.3C714.7,366 716.5,359.8 717,355.5C717.5,351.2 718.8,347.5 718,344.4C717.2,341.3 715.3,339.5 712.5,337C709.7,334.5 703.2,330.8 701.4,329.6Z" fill="url(#stg)" stroke="#e0565d" stroke-width="2.5" stroke-linejoin="round"/>
<path d="M703.5,330.5 C708,333 712,337 714.5,343 C716,349 715,356 714,362" fill="none" stroke="#fca5a1" stroke-width="1.6" stroke-linecap="round" opacity=".9"/>
<g fill="#dd575e" stroke="#dd575e" stroke-width="5.6" stroke-linejoin="round">
<path d="M897,362C895.3,366.2 892,378 887,387C882,396 874.8,408.5 867,416C859.2,423.5 848.3,427.8 840,432C831.7,436.2 826.5,438.8 817,441.5C807.5,444.2 794.3,447.1 783,448.5C771.7,449.9 760.3,450.3 749,450C737.7,449.7 726.3,448.6 715,446.5C703.7,444.4 691,440.4 681,437.5C671,434.6 661.8,430.9 655,429C648.2,427.1 642.5,426.5 640,426" fill="none" stroke-width="29" stroke-linecap="round"/>
<circle cx="873.4" cy="401.5" r="16.8" stroke="none"/>
<circle cx="851.7" cy="421.5" r="16.8" stroke="none"/>
<circle cx="819" cy="436.5" r="16.8" stroke="none"/>
<circle cx="787.4" cy="443.6" r="16.8" stroke="none"/>
<circle cx="757.5" cy="445.9" r="16.8" stroke="none"/>
<circle cx="729" cy="444.4" r="16.8" stroke="none"/>
<circle cx="699.1" cy="438.4" r="16.8" stroke="none"/>
<circle cx="667.2" cy="428.6" r="16.8" stroke="none"/>
<circle cx="880.4" cy="406.2" r="16.8" stroke="none"/>
<circle cx="855.7" cy="428.9" r="16.8" stroke="none"/>
<circle cx="821.6" cy="444.5" r="16.8" stroke="none"/>
<circle cx="788.7" cy="452" r="16.8" stroke="none"/>
<circle cx="757.5" cy="454.3" r="16.8" stroke="none"/>
<circle cx="728" cy="452.7" r="16.8" stroke="none"/>
<circle cx="696.9" cy="446.5" r="16.8" stroke="none"/>
<circle cx="664.5" cy="436.5" r="16.8" stroke="none"/>
<path d="M668,431C665,430 656,425.7 650,425C644,424.3 637.4,424 632,427C626.6,430 620.8,435.8 617.5,443C614.2,450.2 613.6,460.5 612.5,470C611.4,479.5 611.3,490 611,500C610.7,510 610.4,520 610.5,530C610.6,540 611.1,551.3 611.5,560C611.9,568.7 612.8,578.3 613,582" fill="none" stroke-width="34.4" stroke-linecap="round"/>
<circle cx="644.5" cy="420.5" r="20.3" stroke="none"/>
<circle cx="612.8" cy="443.7" r="20.3" stroke="none"/>
<circle cx="607.4" cy="483.1" r="20.3" stroke="none"/>
<circle cx="606.5" cy="516.4" r="20.3" stroke="none"/>
<circle cx="607" cy="550.3" r="20.3" stroke="none"/>
<circle cx="644.3" cy="428.7" r="20.3" stroke="none"/>
<circle cx="620.5" cy="446.5" r="20.3" stroke="none"/>
<circle cx="615.6" cy="483.5" r="20.3" stroke="none"/>
<circle cx="614.7" cy="516.6" r="20.3" stroke="none"/>
<circle cx="615.1" cy="549.9" r="20.3" stroke="none"/>
<path d="M708,219C709.8,220.8 715.2,226.3 719,230C722.8,233.7 726.7,237.3 731,241C735.3,244.7 738.5,247.7 745,252C751.5,256.3 760.8,263 770,267C779.2,271 789.8,274.7 800,276C810.2,277.3 821,276.2 831,275C841,273.8 851.2,270.7 860,269C868.8,267.3 877.3,264.6 884,265C890.7,265.4 896.3,267.3 900,271.5C903.7,275.7 904.9,282.8 906,290C907.1,297.2 907,307.2 906.5,315C906,322.8 904.6,329.2 903,337C901.4,344.8 899.5,354 897,362C894.5,370 889.5,381.2 888,385" fill="none" stroke-width="31.2" stroke-linecap="round"/>
<circle cx="711.3" cy="230.6" r="18.3" stroke="none"/>
<circle cx="736.7" cy="253.2" r="18.3" stroke="none"/>
<circle cx="766.1" cy="271.6" r="18.3" stroke="none"/>
<circle cx="796.1" cy="281.3" r="18.3" stroke="none"/>
<circle cx="830.2" cy="280.9" r="18.3" stroke="none"/>
<circle cx="862.2" cy="274.5" r="18.3" stroke="none"/>
<circle cx="891.3" cy="272.4" r="18.3" stroke="none"/>
<circle cx="900.9" cy="297.4" r="18.3" stroke="none"/>
<circle cx="898.6" cy="329.7" r="18.3" stroke="none"/>
<circle cx="891.9" cy="358.9" r="18.3" stroke="none"/>
<circle cx="719.5" cy="222.4" r="18.3" stroke="none"/>
<circle cx="743.6" cy="243.9" r="18.3" stroke="none"/>
<circle cx="771" cy="261.1" r="18.3" stroke="none"/>
<circle cx="798" cy="269.8" r="18.3" stroke="none"/>
<circle cx="828.9" cy="269.4" r="18.3" stroke="none"/>
<circle cx="860" cy="263.1" r="18.3" stroke="none"/>
<circle cx="895.9" cy="261.7" r="18.3" stroke="none"/>
<circle cx="912.5" cy="296.8" r="18.3" stroke="none"/>
<circle cx="909.9" cy="332" r="18.3" stroke="none"/>
<circle cx="903" cy="362.3" r="18.3" stroke="none"/>
<circle cx="716" cy="222.8" r="18.4" stroke="none"/>
<circle cx="697" cy="234.5" r="10" stroke="none"/>
<circle cx="709.5" cy="243" r="11" stroke="none"/>
<circle cx="908.5" cy="270" r="17.8" stroke="none"/>
<path d="M614.5,572C620.3,572 626.9,574 632,577C637.1,580 641.9,584.8 645,590C648.1,595.2 650.2,601.7 650.5,608C650.8,614.3 649.8,622.3 647,628C644.2,633.7 639.5,638.8 634,642C628.5,645.2 620.5,647.5 614,647.5C607.5,647.5 600.2,645.2 595,642C589.8,638.8 585.2,633.7 582.5,628C579.8,622.3 578.2,614.3 578.5,608C578.8,601.7 580.9,595.2 584,590C587.1,584.8 591.9,580 597,577C602.1,574 608.7,572 614.5,572Z"/>
<path d="M605,640C605.3,642 606.2,647.8 607,652C607.8,656.2 608.3,659.1 609.5,665C610.7,670.9 613.2,683.8 614,687.5C615.9,687.2 623.6,686.2 625.5,686C624.9,682.5 622.2,670.7 622,665C621.8,659.3 623.2,656.2 624,652C624.8,647.8 626.5,642 627,640C623.3,640 608.7,640 605,640Z"/>
</g>
<g fill="#f98482" stroke="none">
<path d="M897,362C895.3,366.2 892,378 887,387C882,396 874.8,408.5 867,416C859.2,423.5 848.3,427.8 840,432C831.7,436.2 826.5,438.8 817,441.5C807.5,444.2 794.3,447.1 783,448.5C771.7,449.9 760.3,450.3 749,450C737.7,449.7 726.3,448.6 715,446.5C703.7,444.4 691,440.4 681,437.5C671,434.6 661.8,430.9 655,429C648.2,427.1 642.5,426.5 640,426" fill="none" stroke="#f98482" stroke-width="23.4" stroke-linecap="round"/>
<path d="M668,431C665,430 656,425.7 650,425C644,424.3 637.4,424 632,427C626.6,430 620.8,435.8 617.5,443C614.2,450.2 613.6,460.5 612.5,470C611.4,479.5 611.3,490 611,500C610.7,510 610.4,520 610.5,530C610.6,540 611.1,551.3 611.5,560C611.9,568.7 612.8,578.3 613,582" fill="none" stroke="#f98482" stroke-width="28.8" stroke-linecap="round"/>
<path d="M708,219C709.8,220.8 715.2,226.3 719,230C722.8,233.7 726.7,237.3 731,241C735.3,244.7 738.5,247.7 745,252C751.5,256.3 760.8,263 770,267C779.2,271 789.8,274.7 800,276C810.2,277.3 821,276.2 831,275C841,273.8 851.2,270.7 860,269C868.8,267.3 877.3,264.6 884,265C890.7,265.4 896.3,267.3 900,271.5C903.7,275.7 904.9,282.8 906,290C907.1,297.2 907,307.2 906.5,315C906,322.8 904.6,329.2 903,337C901.4,344.8 899.5,354 897,362C894.5,370 889.5,381.2 888,385" fill="none" stroke="#f98482" stroke-width="25.6" stroke-linecap="round"/>
<circle cx="873.4" cy="401.5" r="14" fill="url(#hbg)"/>
<circle cx="851.7" cy="421.5" r="14" fill="url(#hbg)"/>
<circle cx="819" cy="436.5" r="14" fill="url(#hbg)"/>
<circle cx="787.4" cy="443.6" r="14" fill="url(#hbg)"/>
<circle cx="757.5" cy="445.9" r="14" fill="url(#hbg)"/>
<circle cx="729" cy="444.4" r="14" fill="url(#hbg)"/>
<circle cx="699.1" cy="438.4" r="14" fill="url(#hbg)"/>
<circle cx="667.2" cy="428.6" r="14" fill="url(#hbg)"/>
<circle cx="880.4" cy="406.2" r="14" fill="url(#hbg)"/>
<circle cx="855.7" cy="428.9" r="14" fill="url(#hbg)"/>
<circle cx="821.6" cy="444.5" r="14" fill="url(#hbg)"/>
<circle cx="788.7" cy="452" r="14" fill="url(#hbg)"/>
<circle cx="757.5" cy="454.3" r="14" fill="url(#hbg)"/>
<circle cx="728" cy="452.7" r="14" fill="url(#hbg)"/>
<circle cx="696.9" cy="446.5" r="14" fill="url(#hbg)"/>
<circle cx="664.5" cy="436.5" r="14" fill="url(#hbg)"/>
<circle cx="644.5" cy="420.5" r="17.5" fill="url(#hbg)"/>
<circle cx="612.8" cy="443.7" r="17.5" fill="url(#hbg)"/>
<circle cx="607.4" cy="483.1" r="17.5" fill="url(#hbg)"/>
<circle cx="606.5" cy="516.4" r="17.5" fill="url(#hbg)"/>
<circle cx="607" cy="550.3" r="17.5" fill="url(#hbg)"/>
<circle cx="644.3" cy="428.7" r="17.5" fill="url(#hbg)"/>
<circle cx="620.5" cy="446.5" r="17.5" fill="url(#hbg)"/>
<circle cx="615.6" cy="483.5" r="17.5" fill="url(#hbg)"/>
<circle cx="614.7" cy="516.6" r="17.5" fill="url(#hbg)"/>
<circle cx="615.1" cy="549.9" r="17.5" fill="url(#hbg)"/>
<circle cx="711.3" cy="230.6" r="15.5" fill="url(#hbg)"/>
<circle cx="736.7" cy="253.2" r="15.5" fill="url(#hbg)"/>
<circle cx="766.1" cy="271.6" r="15.5" fill="url(#hbg)"/>
<circle cx="796.1" cy="281.3" r="15.5" fill="url(#hbg)"/>
<circle cx="830.2" cy="280.9" r="15.5" fill="url(#hbg)"/>
<circle cx="862.2" cy="274.5" r="15.5" fill="url(#hbg)"/>
<circle cx="891.3" cy="272.4" r="15.5" fill="url(#hbg)"/>
<circle cx="900.9" cy="297.4" r="15.5" fill="url(#hbg)"/>
<circle cx="898.6" cy="329.7" r="15.5" fill="url(#hbg)"/>
<circle cx="891.9" cy="358.9" r="15.5" fill="url(#hbg)"/>
<circle cx="719.5" cy="222.4" r="15.5" fill="url(#hbg)"/>
<circle cx="743.6" cy="243.9" r="15.5" fill="url(#hbg)"/>
<circle cx="771" cy="261.1" r="15.5" fill="url(#hbg)"/>
<circle cx="798" cy="269.8" r="15.5" fill="url(#hbg)"/>
<circle cx="828.9" cy="269.4" r="15.5" fill="url(#hbg)"/>
<circle cx="860" cy="263.1" r="15.5" fill="url(#hbg)"/>
<circle cx="895.9" cy="261.7" r="15.5" fill="url(#hbg)"/>
<circle cx="912.5" cy="296.8" r="15.5" fill="url(#hbg)"/>
<circle cx="909.9" cy="332" r="15.5" fill="url(#hbg)"/>
<circle cx="903" cy="362.3" r="15.5" fill="url(#hbg)"/>
<circle cx="716" cy="222.8" r="15.6" fill="url(#hbg)"/>
<circle cx="697" cy="234.5" r="7.2" fill="url(#hbg)"/>
<circle cx="709.5" cy="243" r="8.2" fill="url(#hbg)"/>
<circle cx="908.5" cy="270" r="15" fill="url(#hbg)"/>
<path d="M897,362C895.3,366.2 892,378 887,387C882,396 874.8,408.5 867,416C859.2,423.5 848.3,427.8 840,432C831.7,436.2 826.5,438.8 817,441.5C807.5,444.2 794.3,447.1 783,448.5C771.7,449.9 760.3,450.3 749,450C737.7,449.7 726.3,448.6 715,446.5C703.7,444.4 691,440.4 681,437.5C671,434.6 661.8,430.9 655,429C648.2,427.1 642.5,426.5 640,426" fill="none" stroke="#f98482" stroke-width="20.4" stroke-linecap="round" opacity=".9"/>
<path d="M668,431C665,430 656,425.7 650,425C644,424.3 637.4,424 632,427C626.6,430 620.8,435.8 617.5,443C614.2,450.2 613.6,460.5 612.5,470C611.4,479.5 611.3,490 611,500C610.7,510 610.4,520 610.5,530C610.6,540 611.1,551.3 611.5,560C611.9,568.7 612.8,578.3 613,582" fill="none" stroke="#f98482" stroke-width="25.8" stroke-linecap="round" opacity=".9"/>
<path d="M708,219C709.8,220.8 715.2,226.3 719,230C722.8,233.7 726.7,237.3 731,241C735.3,244.7 738.5,247.7 745,252C751.5,256.3 760.8,263 770,267C779.2,271 789.8,274.7 800,276C810.2,277.3 821,276.2 831,275C841,273.8 851.2,270.7 860,269C868.8,267.3 877.3,264.6 884,265C890.7,265.4 896.3,267.3 900,271.5C903.7,275.7 904.9,282.8 906,290C907.1,297.2 907,307.2 906.5,315C906,322.8 904.6,329.2 903,337C901.4,344.8 899.5,354 897,362C894.5,370 889.5,381.2 888,385" fill="none" stroke="#f98482" stroke-width="22.6" stroke-linecap="round" opacity=".9"/>
<path d="M614.5,572C620.3,572 626.9,574 632,577C637.1,580 641.9,584.8 645,590C648.1,595.2 650.2,601.7 650.5,608C650.8,614.3 649.8,622.3 647,628C644.2,633.7 639.5,638.8 634,642C628.5,645.2 620.5,647.5 614,647.5C607.5,647.5 600.2,645.2 595,642C589.8,638.8 585.2,633.7 582.5,628C579.8,622.3 578.2,614.3 578.5,608C578.8,601.7 580.9,595.2 584,590C587.1,584.8 591.9,580 597,577C602.1,574 608.7,572 614.5,572Z"/>
<path d="M605,640C605.3,642 606.2,647.8 607,652C607.8,656.2 608.3,659.1 609.5,665C610.7,670.9 613.2,683.8 614,687.5C615.9,687.2 623.6,686.2 625.5,686C624.9,682.5 622.2,670.7 622,665C621.8,659.3 623.2,656.2 624,652C624.8,647.8 626.5,642 627,640C623.3,640 608.7,640 605,640Z"/>
</g>
<g stroke="#dd575e" stroke-width="2" stroke-linecap="round" opacity=".85">
<path d="M857.2,406.4 L862.7,412.2"/>
<path d="M831.4,421 L835,428.2"/>
<path d="M800.5,431.5 L802.3,439.3"/>
<path d="M771.5,435.9 L772.1,443.8"/>
<path d="M744.2,436.1 L743.8,444.1"/>
<path d="M715.7,432.7 L714.2,440.5"/>
<path d="M685.7,424.6 L683.5,432.3"/>
<path d="M649.4,413.7 L648,421.6"/>
<path d="M876,426.3 L870.5,420.5"/>
<path d="M843.7,445.5 L840.1,438.3"/>
<path d="M806.4,458.3 L804.7,450.5"/>
<path d="M773.5,463.2 L772.9,455.2"/>
<path d="M742.8,463.5 L743.2,455.5"/>
<path d="M710.4,459.6 L711.9,451.7"/>
<path d="M678,450.9 L680.3,443.2"/>
<path d="M644.4,440.6 L645.9,432.8"/>
<path d="M617.6,417 L622.6,423.2"/>
<path d="M597,461.3 L604.9,462.1"/>
<path d="M594.6,499 L602.6,499.2"/>
<path d="M594.1,532.8 L602.1,532.6"/>
<path d="M595.8,571.2 L603.7,570.7"/>
<path d="M638,442.7 L633,436.4"/>
<path d="M629.6,464.8 L621.6,464"/>
<path d="M627.4,500 L619.4,499.8"/>
<path d="M626.9,532.3 L618.9,532.4"/>
<path d="M628.5,568.9 L620.5,569.5"/>
<path d="M717.2,248.6 L722.5,242.6"/>
<path d="M746.7,270.9 L751.1,264.2"/>
<path d="M778.6,286.1 L781,278.5"/>
<path d="M813.5,291.3 L813.2,283.3"/>
<path d="M847.5,287 L845.7,279.2"/>
<path d="M878.2,280.2 L876.9,272.4"/>
<path d="M889.9,284.3 L897.7,282.3"/>
<path d="M891.9,310.9 L899.9,311.3"/>
<path d="M886.5,343.5 L894.3,345.2"/>
<path d="M878.1,370.2 L885.5,373.3"/>
<path d="M737,226.6 L731.6,232.5"/>
<path d="M762.8,246.1 L758.4,252.8"/>
<path d="M787.7,258 L785.3,265.6"/>
<path d="M812.6,261.7 L812.8,269.7"/>
<path d="M840.9,258.2 L842.7,266"/>
<path d="M873.4,251 L874.7,258.9"/>
<path d="M918.6,276.9 L910.8,278.9"/>
<path d="M921.5,312.3 L913.5,311.9"/>
<path d="M915.4,349.9 L907.6,348.2"/>
<path d="M905.5,381.5 L898.1,378.4"/>
</g>
<path d="M897,362C897,362.1 897,362.4 897,362.5" fill="none" stroke="#fda29e" stroke-width="3.2" stroke-linecap="round" opacity=".95"/>
<path d="M613,582C613,582.1 613,582.4 613,582.5" fill="none" stroke="#fda29e" stroke-width="3.2" stroke-linecap="round" opacity=".95"/>
<path d="M689.5,217C691.1,218.2 695.6,221.8 699,224C702.4,226.2 705.7,227.3 710,230.5C714.3,233.7 718.2,237.2 725,243C731.8,248.8 742.3,259.7 751,265C759.7,270.3 768.5,272.5 777,275C785.5,277.5 792.2,279.4 802,280C811.8,280.6 826,279.9 836,278.5C846,277.1 854,272.9 862,271.5C870,270.1 877.8,268.8 884,270C890.2,271.2 895.8,274.2 899.5,278.5C903.2,282.8 904.7,288.6 906,295.5C907.3,302.4 908.1,312.6 907.5,320C906.9,327.4 904.2,334.7 902.5,340C900.8,345.3 900,344.1 897.5,352C895,359.9 892.5,376.6 887.5,387.5C882.5,398.4 875.4,410.2 867.5,417.5C859.6,424.8 848.4,426.9 840,431C831.6,435.1 826.5,439 817,442C807.5,445 794.3,447.5 783,448.8C771.7,450.1 760.3,450.4 749,450C737.7,449.6 726.3,448.6 715,446.5C703.7,444.4 692.3,440.9 681,437.3C669.7,433.7 655.2,426.2 647,425C638.8,423.8 636.1,425.8 632,430C627.9,434.2 625.2,442.5 622.5,450C619.8,457.5 617.7,466.7 616,475C614.3,483.3 613.4,491.7 612.5,500C611.6,508.3 610.8,514.6 610.5,525C610.2,535.4 610.5,551.7 611,562.5C611.5,573.3 613.2,581.8 613.5,590C613.8,598.2 613.1,608.3 613,612" fill="none" stroke="#fda29e" stroke-width="3.2" stroke-linecap="round" opacity=".95"/>
<path d="M692,276.9L699.4,300.2L693.5,302.1L708.5,313L714.4,295.4L708.5,297.3L701,274.1Z" fill="#1f9bdd"/>
<path d="M675.2,346.9L687.8,366.9L682.5,370.2L699.8,377L701.1,358.4L695.8,361.8L683.2,341.9Z" fill="#1f9bdd"/>
<path d="M721.1,411.8L697.2,397.6L700.3,392.4L682.9,394.3L689.6,410.5L692.7,405.2L716.7,419.4Z" fill="#1f9bdd"/>
<path d="M853.1,381.4L827.3,400.3L823.5,395.1L817.9,412.8L836.5,412.8L832.7,407.6L858.5,388.6Z" fill="#1f9bdd"/>
<path d="M390.5,211.5 L533,326" stroke="#111111" stroke-width="1.9" fill="none" stroke-linecap="butt"/>
<path d="M342,326.4 L556,326.4" stroke="#111111" stroke-width="1.9" fill="none" stroke-linecap="butt"/>
<circle cx="556.3" cy="326.7" r="4.7" fill="#111111"/>
<path d="M345,448.5 L550,448.5" stroke="#111111" stroke-width="1.9" fill="none" stroke-linecap="butt"/>
<circle cx="550.6" cy="448.6" r="4.7" fill="#111111"/>
<path d="M493.5,547.3 L645.8,433.6" stroke="#111111" stroke-width="1.9" fill="none" stroke-linecap="butt"/>
<circle cx="645.8" cy="433.6" r="4.7" fill="#111111"/>
<path d="M493.5,552.3 L606,552.3" stroke="#111111" stroke-width="1.9" fill="none" stroke-linecap="butt"/>
<circle cx="606.6" cy="552.7" r="4.7" fill="#111111"/>
<path d="M1002,200 L875,319.6" stroke="#111111" stroke-width="1.9" fill="none" stroke-linecap="butt"/>
<circle cx="874.6" cy="320" r="4.7" fill="#111111"/>
<path d="M900.5,334.3 L1035.6,400.3" stroke="#111111" stroke-width="1.9" fill="none" stroke-linecap="butt"/>
<circle cx="900.5" cy="334.3" r="4.7" fill="#111111"/>
<path d="M875,513 L1000,513" stroke="#111111" stroke-width="1.9" fill="none" stroke-linecap="butt"/>
<circle cx="874.9" cy="512.9" r="4.7" fill="#111111"/>
<text x="248.9" y="194.5" font-size="26" class="b" textLength="131.9" lengthAdjust="spacingAndGlyphs">Moıth ipur</text>
<text x="256.1" y="220.2" font-size="22" textLength="126.8" lengthAdjust="spacingAndGlyphs">(poce (ipang)</text>
<text x="208.8" y="312.7" font-size="26" class="b" textLength="116" lengthAdjust="spacingAndGlyphs">Hour stur</text>
<text x="166.9" y="340.4" font-size="26" class="b" textLength="102.2" lengthAdjust="spacingAndGlyphs">Digestive</text>
<text x="274.5" y="340.4" font-size="25" textLength="54.3" lengthAdjust="spacingAndGlyphs">Tract)</text>
<text x="199.7" y="454.5" font-size="26" class="b" textLength="131.4" lengthAdjust="spacingAndGlyphs">Esophaage</text>
<text x="349.7" y="561.6" font-size="26" class="b" textLength="132.8" lengthAdjust="spacingAndGlyphs">Small poor</text>
<text x="356.3" y="587.5" font-size="22" textLength="128.8" lengthAdjust="spacingAndGlyphs">(pocte st ang)</text>
<text x="1009.7" y="189.5" font-size="26" class="b" textLength="124" lengthAdjust="spacingAndGlyphs">Reat ipure</text>
<text x="1008.2" y="215.8" font-size="22" textLength="120.7" lengthAdjust="spacingAndGlyphs">(poste fıang)</text>
<text x="1045" y="386.3" font-size="26" class="b" textLength="66" lengthAdjust="spacingAndGlyphs">Small</text>
<text x="1045.3" y="414.7" font-size="26" class="b" textLength="179.8" lengthAdjust="spacingAndGlyphs">small digestine</text>
<text x="1041.6" y="441.3" font-size="22" textLength="145.1" lengthAdjust="spacingAndGlyphs">(pocefreſt ang)</text>
<text x="1011.8" y="517.8" font-size="26" class="b" textLength="177.5" lengthAdjust="spacingAndGlyphs">Large intestine</text>
<text x="1025.8" y="544" font-size="22" textLength="142.5" lengthAdjust="spacingAndGlyphs">(poceflest ang)</text>
</svg>
</body>
</html>
